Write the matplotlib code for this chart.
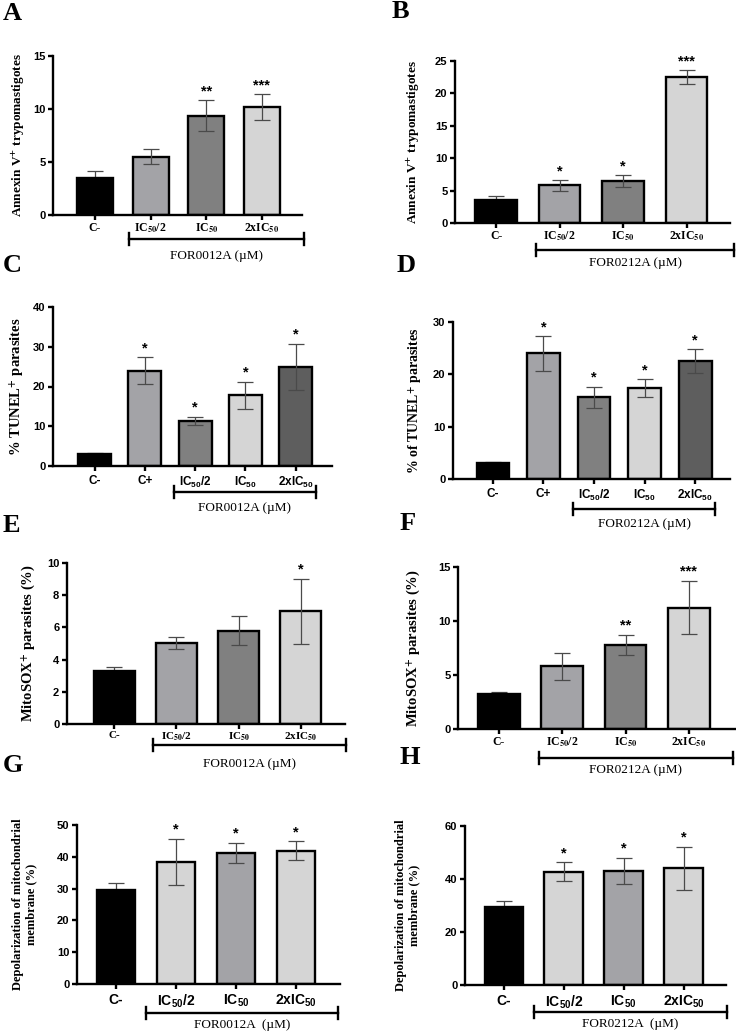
import matplotlib
matplotlib.use("Agg")
import matplotlib.pyplot as plt
from matplotlib.lines import Line2D
import matplotlib.transforms as mtransforms

plt.rcParams['mathtext.fontset'] = 'custom'
plt.rcParams['mathtext.rm'] = 'Liberation Sans:bold'
plt.rcParams['mathtext.bf'] = 'Liberation Sans:bold'
plt.rcParams['mathtext.it'] = 'Liberation Sans:bold'

# ---------------- data ----------------
labels4 = ['C-', 'IC$_{\\mathbf{50}}$/2', 'IC$_{\\mathbf{50}}$', '2xIC$_{\\mathbf{50}}$']
labels5 = ['C-', 'C+', 'IC$_{\\mathbf{50}}$/2', 'IC$_{\\mathbf{50}}$', '2xIC$_{\\mathbf{50}}$']

a_means = [3.5, 5.5, 9.35, 10.2]
a_err = [0.65, 0.72, 1.47, 1.2]
a_sig = ['', '', '**', '***']

b_means = [3.5, 5.8, 6.5, 22.5]
b_err = [0.7, 0.8, 0.88, 1.05]
b_sig = ['', '*', '*', '***']

c_means = [3.0, 24.0, 11.4, 17.8, 25.0]
c_err = [0.3, 3.3, 1.0, 3.45, 5.8]
c_sig = ['', '*', '*', '*', '*']

d_means = [3.0, 24.0, 15.6, 17.4, 22.5]
d_err = [0.25, 3.3, 2.05, 1.65, 2.25]
d_sig = ['', '*', '*', '*', '*']

e_means = [3.3, 5.05, 5.8, 7.0]
e_err = [0.22, 0.37, 0.9, 2.03]
e_sig = ['', '', '', '*']

f_means = [3.25, 5.8, 7.8, 11.25]
f_err = [0.17, 1.25, 0.95, 2.48]
f_sig = ['', '', '**', '***']

g_means = [29.5, 38.5, 41.2, 41.9]
g_err = [2.3, 7.25, 3.2, 3.0]
g_sig = ['', '*', '*', '*']

h_means = [29.5, 42.7, 43.0, 44.0]
h_err = [2.3, 3.55, 5.0, 8.1]
h_sig = ['', '*', '*', '*']

# ---------------- styles ----------------
K = '#000000'
LM = '#a3a3a7'
MD = '#808080'
LT = '#d5d5d5'
DK = '#5e5e5e'

W, H = 736, 1033
fig = plt.figure(figsize=(W / 100, H / 100), dpi=100)

SERIF = 'Liberation Serif'
SANS = 'Liberation Sans'


def make_panel(letter, letter_xy, rect_px, xlim, ymax, yticks, width,
               means, errs, sigs, labels, colors, ylabel, ylabel_size,
               ylabel_x_px, tick_serif, tick_size, bracket, compound):
    x0, top, x1, zero = rect_px
    ax = fig.add_axes([x0 / W, (H - zero) / H, (x1 - x0) / W, (zero - top) / H])
    pos = list(range(len(means)))
    for i, (m, e, c) in enumerate(zip(means, errs, colors)):
        ax.bar(i, m, width=width, color=c, edgecolor='black', linewidth=1.7,
               zorder=2)
        ax.errorbar(i, m, yerr=e, color='#4a4a4a', elinewidth=0.9,
                    capsize=width * 9.0, capthick=0.9,
                    zorder=1 if c == K else 3)
        if sigs[i]:
            ax.annotate(sigs[i], (i, m + e), xytext=(0, 1.5),
                        textcoords='offset points', ha='center', va='bottom',
                        fontsize=10.5, fontweight='bold', family=SANS)
    ax.set_xlim(*xlim)
    ax.set_ylim(0, ymax)
    ax.set_yticks(yticks)
    ax.set_yticklabels([str(t) for t in yticks], fontsize=8,
                       fontweight='bold', family=SANS)
    ax.set_xticks(pos)
    for s in ['top', 'right']:
        ax.spines[s].set_visible(False)
    for s in ['left', 'bottom']:
        ax.spines[s].set_linewidth(1.7)
    ax.tick_params(axis='both', direction='out', length=3.5, width=1.7,
                   pad=2)
    if tick_serif:
        ax.set_xticklabels(labels, fontsize=tick_size, fontweight='bold',
                           family=SERIF, math_fontfamily='stix')
        ax.tick_params(axis='x', pad=1.5)
    else:
        ax.set_xticklabels(labels, fontsize=tick_size, fontweight='bold',
                           family=SANS, math_fontfamily='custom')
        ax.tick_params(axis='x', pad=3)
    ax.set_ylabel(ylabel, fontsize=ylabel_size, fontweight='bold',
                  family=SERIF, math_fontfamily='stix', linespacing=1.1)
    ax.yaxis.set_label_coords((ylabel_x_px - x0) / (x1 - x0), 0.5)
    # bracket
    bx0, bx1, by_px, lab_px = bracket
    trans = mtransforms.blended_transform_factory(ax.transData, ax.transAxes)
    by = -(by_px - zero) / (zero - top)
    ticklen = 6 / (zero - top)
    ax.add_line(Line2D([bx0, bx1], [by, by], transform=trans, color='black',
                       lw=1.7, clip_on=False))
    for bx in (bx0, bx1):
        ax.add_line(Line2D([bx, bx], [by - ticklen, by + ticklen],
                           transform=trans, color='black', lw=1.7,
                           clip_on=False))
    ly = -(lab_px - zero) / (zero - top)
    ax.text((bx0 + bx1) / 2, ly, compound, transform=trans, ha='center',
            va='center', fontsize=9.5, family=SERIF)
    fig.text(letter_xy[0] / W, 1 - letter_xy[1] / H, letter, fontsize=19,
             fontweight='bold', family=SERIF, ha='left', va='center')
    return ax


c4_ab = [K, LM, MD, LT]
c5 = [K, LM, MD, LT, DK]
c4_gh = [K, LT, LM, LT]

make_panel('A', (3, 13), (53, 56, 302, 215), (-0.754, 3.72), 15,
           [0, 5, 10, 15], 0.65, a_means, a_err, a_sig, labels4, c4_ab,
           'Annexin V$^{\\mathbf{+}}$ trypomastigotes', 9.5, 27, True, 8.5,
           (0.61, 3.75, 239, 256), 'FOR0012A (\u00b5M)')

make_panel('B', (392, 12), (455, 61, 730, 223), (-0.646, 3.685), 25,
           [0, 5, 10, 15, 20, 25], 0.66, b_means, b_err, b_sig, labels4, c4_ab,
           'Annexin V$^{\\mathbf{+}}$ trypomastigotes', 9.5, 422, True, 8.5,
           (0.63, 3.75, 250, 263), 'FOR0212A (\u00b5M)')

make_panel('C', (3, 266), (53, 307, 332, 466), (-0.825, 4.72), 40,
           [0, 10, 20, 30, 40], 0.66, c_means, c_err, c_sig, labels5, c5,
           '% TUNEL$^{\\mathbf{+}}$ parasites', 10.5, 27, False, 8.5,
           (1.58, 4.40, 492, 508), 'FOR0012A (\u00b5M)')

make_panel('D', (397, 265), (453, 322, 730, 479), (-0.79, 4.69), 30,
           [0, 10, 20, 30], 0.65, d_means, d_err, d_sig, labels5, c5,
           '% of TUNEL$^{\\mathbf{+}}$ parasites', 10, 425, False, 8.5,
           (1.58, 4.40, 509, 524), 'FOR0212A (\u00b5M)')

make_panel('E', (3, 525), (67, 563, 345, 724), (-0.756, 3.71), 10,
           [0, 2, 4, 6, 8, 10], 0.66, e_means, e_err, e_sig, labels4, c4_ab,
           'MitoSOX$^{\\mathbf{+}}$ parasites (%)', 10.5, 38, True, 8,
           (0.63, 3.73, 745, 764), 'FOR0012A (\u00b5M)')

make_panel('F', (400, 523), (458, 567, 735, 729), (-0.648, 3.73), 15,
           [0, 5, 10, 15], 0.66, f_means, f_err, f_sig, labels4, c4_ab,
           'MitoSOX$^{\\mathbf{+}}$ parasites (%)', 10.5, 423, True, 8.5,
           (0.63, 3.70, 758, 770), 'FOR0212A (\u00b5M)')

make_panel('G', (3, 766), (77, 825, 340, 984), (-0.65, 3.73), 50,
           [0, 10, 20, 30, 40, 50], 0.63, g_means, g_err, g_sig, labels4, c4_gh,
           'Depolarization of mitochondrial\nmembrane (%)', 9, 37, False, 10,
           (0.5, 3.7, 1013, 1025), 'FOR0012A  (\u00b5M)')

make_panel('H', (400, 758), (465, 826, 726, 985), (-0.652, 3.71), 60,
           [0, 20, 40, 60], 0.65, h_means, h_err, h_sig, labels4, c4_gh,
           'Depolarization of mitochondrial\nmembrane (%)', 9, 420, False, 10,
           (0.5, 3.72, 1012, 1024), 'FOR0212A  (\u00b5M)')

fig.savefig('out.png', dpi=100, facecolor='white')
